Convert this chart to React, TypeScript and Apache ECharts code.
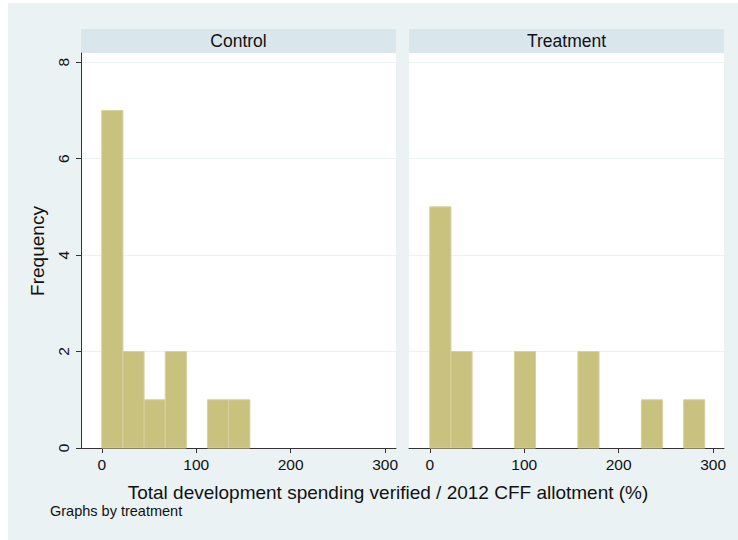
import React, { useEffect, useRef } from "react";
import * as echarts from "echarts";

const binWidth = 22.4;
const controlCounts = [7, 2, 1, 2, 0, 1, 1, 0, 0, 0, 0, 0, 0];
const treatmentCounts = [5, 2, 0, 0, 2, 0, 0, 2, 0, 0, 1, 0, 1];
const panelTitles = ["Control", "Treatment"];
const xTicks = [0, 100, 200, 300];
const yTicks = [0, 2, 4, 6, 8];
const xTitle = "Total development spending verified / 2012 CFF allotment (%)";
const yTitle = "Frequency";
const note = "Graphs by treatment";

const FONT = "'Liberation Sans', Arial, Helvetica, sans-serif";
const BG = "#EAF2F3";
const STRIP = "#D9E6EB";
const AXIS = "#333333";
const FILL = "#C9C17E";
const EDGE = "#D7D19E";

function toBins(counts: number[]) {
  const out: number[][] = [];
  counts.forEach((c, i) => {
    if (c > 0) out.push([i * binWidth, (i + 1) * binWidth, c]);
  });
  return out;
}

export default function App() {
  const ref = useRef<HTMLDivElement>(null);
  useEffect(() => {
    if (!ref.current) return;
    const chart = echarts.init(ref.current, null, { renderer: "svg" });
    const grids = [
      { left: 81, top: 53, width: 315, height: 395 },
      { left: 409, top: 53, width: 315, height: 395 },
    ];
    const xAxisBase = (i: number) => ({
      type: "value",
      gridIndex: i,
      min: -22,
      max: 311.5,
      axisLine: { show: true, onZero: false, lineStyle: { color: AXIS, width: 1 } },
      axisTick: { show: true, length: 5, inside: false, customValues: xTicks, lineStyle: { color: AXIS } },
      axisLabel: {
        show: true,
        customValues: xTicks,
        margin: 8,
        color: "#111",
        fontSize: 15.5,
        fontFamily: FONT,
      },
      splitLine: { show: false },
    });
    const yAxisBase = (i: number) => ({
      type: "value",
      gridIndex: i,
      min: 0,
      max: 8.19,
      axisLine: { show: i === 0, onZero: false, lineStyle: { color: AXIS, width: 1 } },
      axisTick: { show: i === 0, length: 5, customValues: yTicks, lineStyle: { color: AXIS } },
      axisLabel: {
        show: i === 0,
        customValues: yTicks,
        rotate: 90,
        margin: 10,
        color: "#111",
        fontSize: 15.5,
        fontFamily: FONT,
      },
      splitLine: { show: true, lineStyle: { color: BG, width: 1 } },
    });
    const makeSeries = (i: number, counts: number[]) => ({
      type: "custom",
      xAxisIndex: i,
      yAxisIndex: i,
      data: toBins(counts),
      encode: { x: [0, 1], y: 2 },
      renderItem: (params: any, api: any) => {
        const p0 = api.coord([api.value(0), api.value(2)]);
        const p1 = api.coord([api.value(1), 0]);
        return {
          type: "rect",
          shape: { x: p0[0], y: p0[1], width: p1[0] - p0[0], height: p1[1] - p0[1] },
          style: { fill: FILL, stroke: EDGE, lineWidth: 1 },
        };
      },
    });
    const textStyle = (size: number) => ({
      fill: "#111",
      font: `${size}px ${FONT}`,
      textAlign: "center",
      textVerticalAlign: "middle",
    });
    chart.setOption({
      animation: false,
      backgroundColor: BG,
      grid: grids.map((g) => ({
        ...g,
        show: true,
        backgroundColor: "#ffffff",
        borderWidth: 0,
        outerBoundsMode: "none",
        containLabel: false,
      })),
      xAxis: [xAxisBase(0), xAxisBase(1)],
      yAxis: [yAxisBase(0), yAxisBase(1)],
      series: [makeSeries(0, controlCounts), makeSeries(1, treatmentCounts)],
      graphic: [
        { type: "rect", silent: true, shape: { x: 0, y: 0, width: 8, height: 540 }, style: { fill: "#ffffff" } },
        { type: "rect", silent: true, shape: { x: 0, y: 0, width: 738, height: 3 }, style: { fill: "#ffffff" } },
        { type: "rect", silent: true, shape: { x: 81, y: 29, width: 315, height: 24 }, style: { fill: STRIP } },
        { type: "rect", silent: true, shape: { x: 409, y: 29, width: 315, height: 24 }, style: { fill: STRIP } },
        { type: "text", silent: true, x: 238.5, y: 41, style: { text: panelTitles[0], ...textStyle(17.5) } },
        { type: "text", silent: true, x: 566.5, y: 41, style: { text: panelTitles[1], ...textStyle(17.5) } },
        { type: "text", silent: true, x: 37, y: 251, rotation: Math.PI / 2, style: { text: yTitle, ...textStyle(19) } },
        { type: "text", silent: true, x: 388, y: 492, style: { text: xTitle, ...textStyle(19) } },
        {
          type: "text",
          silent: true,
          x: 50,
          y: 511,
          style: { text: note, fill: "#111", font: `14.5px ${FONT}`, textAlign: "left", textVerticalAlign: "middle" },
        },
      ],
    });
    return () => chart.dispose();
  }, []);
  return (
    <div
      ref={ref}
      style={{ position: "fixed", left: 0, top: 0, width: 738, height: 540 }}
    />
  );
}
